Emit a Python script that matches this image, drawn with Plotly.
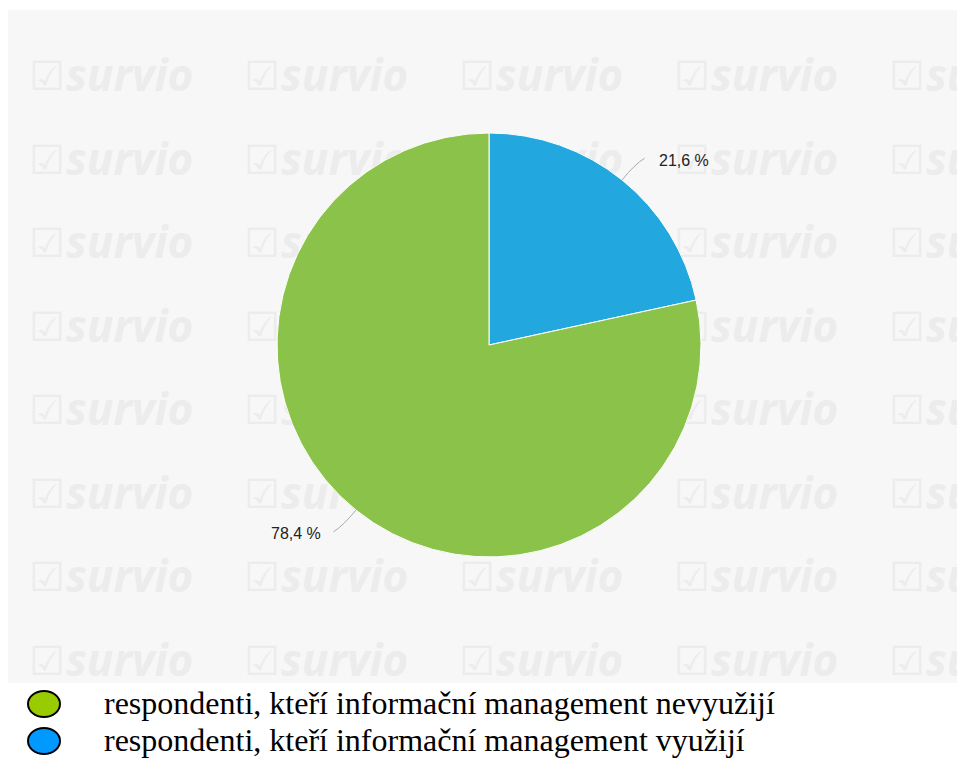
import math
import plotly.graph_objects as go

W, H = 957, 758

# Pie data (drawn clockwise from 12 o'clock)
slice_names = [
    "respondenti, kteří informační management využijí",
    "respondenti, kteří informační management nevyužijí",
]
slice_values = [21.6, 78.4]
slice_colors = ["#22A7DF", "#8BC34A"]

# Legend entries shown under the chart
legend_labels = [
    "respondenti, kteří informační management nevyužijí",
    "respondenti, kteří informační management využijí",
]
legend_colors = ["#99CC00", "#0099FF"]

# Layout geometry in pixels
PANEL = (8, 10, 957, 683)          # left, top, right, bottom of grey panel
CX, CY, R = 489, 345, 212          # pie centre and radius


def px(x):
    return x / W


def py(y):
    return 1 - y / H


fig = go.Figure()

# Repeating watermark inside the grey panel
wm_x_word, wm_x_icon, wm_y = [], [], []
for row in range(8):
    for col in range(5):
        wm_y.append(80 + 83.5 * row)
        wm_x_word.append(66 + 215 * col)
        wm_x_icon.append(47 + 215 * col)

fig.add_trace(go.Scatter(
    x=wm_x_icon, y=wm_y, mode="text", text=["☑"] * len(wm_y),
    textposition="middle center",
    textfont=dict(family="DejaVu Sans", size=40, color="#ececec"),
    cliponaxis=True, hoverinfo="skip", showlegend=False,
))
fig.add_trace(go.Scatter(
    x=wm_x_word, y=wm_y, mode="text", text=["survio"] * len(wm_y),
    textposition="middle right",
    textfont=dict(family="Open Sans", size=44, color="#ececec",
                  weight="bold", style="italic"),
    cliponaxis=True, hoverinfo="skip", showlegend=False,
))

# Pie
fig.add_trace(go.Pie(
    labels=slice_names, values=slice_values,
    marker=dict(colors=slice_colors, line=dict(color="#ffffff", width=1)),
    sort=False, direction="clockwise", rotation=0,
    textinfo="none", showlegend=False,
    domain=dict(x=[px(CX - R), px(CX + R)], y=[py(CY + R), py(CY - R)]),
))

# Percentage labels with curved connectors
shapes = []
annotations = []
total = sum(slice_values)
start = 0.0
for v in slice_values:
    mid = math.radians((start + v / 2) / total * 360)
    start += v
    s, c = math.sin(mid), -math.cos(mid)
    side = 1 if s >= 0 else -1
    p0 = (CX + R * s, CY + R * c)
    ctrl = (CX + 232 * s, CY + 232 * c)
    end = (CX + 240 * s + 5 * side, CY + 240 * c)
    shapes.append(dict(
        type="path", xref="paper", yref="paper",
        path=(f"M {px(p0[0])},{py(p0[1])} Q {px(ctrl[0])},{py(ctrl[1])} "
              f"{px(end[0])},{py(end[1])}"),
        line=dict(color="#aaaaaa", width=1),
    ))
    label = f"{v:.1f}".replace(".", ",") + " %"
    annotations.append(dict(
        x=px(end[0] + (12 if side > 0 else -10)), y=py(end[1] + 2),
        xref="paper", yref="paper", text=label, showarrow=False,
        xanchor="left" if side > 0 else "right", yanchor="middle",
        font=dict(family="Liberation Sans", size=16, color="#222222"),
    ))

# Legend below the panel
for i, (lab, col) in enumerate(zip(legend_labels, legend_colors)):
    cy = 704 + 37 * i
    shapes.append(dict(
        type="circle", xref="paper", yref="paper",
        x0=px(28), x1=px(60), y0=py(cy + 13), y1=py(cy - 13),
        fillcolor=col, line=dict(color="#000000", width=2),
    ))
    annotations.append(dict(
        x=px(102), y=py(cy - 1), xref="paper", yref="paper", text=lab,
        showarrow=False, xanchor="left", yanchor="middle",
        font=dict(family="Liberation Serif", size=32, color="#000000"),
    ))

fig.update_layout(
    width=W, height=H,
    margin=dict(l=0, r=0, t=0, b=0),
    paper_bgcolor="#ffffff",
    plot_bgcolor="#f7f7f7",
    xaxis=dict(domain=[px(PANEL[0]), px(PANEL[2])], range=[PANEL[0], PANEL[2]],
               visible=False, fixedrange=True),
    yaxis=dict(domain=[py(PANEL[3]), py(PANEL[1])], range=[PANEL[3], PANEL[1]],
               visible=False, fixedrange=True),
    shapes=shapes,
    annotations=annotations,
    showlegend=False,
)

fig.write_html("out.html")
